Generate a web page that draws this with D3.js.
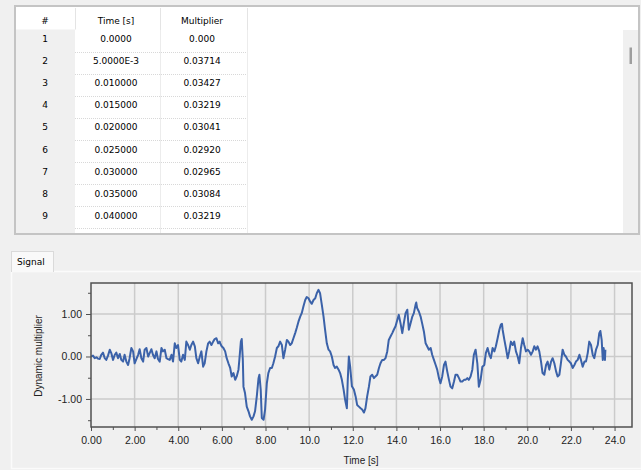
<!DOCTYPE html>
<html>
<head>
<meta charset="utf-8">
<script src="https://cdn.jsdelivr.net/npm/d3@7"></script>
<style>
body { margin: 0; background: #f0f0f0; }
svg { display: block; }
</style>
</head>
<body>
<svg id="app" width="641" height="470"></svg>
<script>
// table rows (as displayed)
var rowIndex = ["1", "2", "3", "4", "5", "6", "7", "8", "9", "10"];
var rowTime = ["0.0000", "5.0000E-3", "0.010000", "0.015000", "0.020000", "0.025000", "0.030000", "0.035000", "0.040000", "0.045000"];
var rowMult = ["0.000", "0.03714", "0.03427", "0.03219", "0.03041", "0.02920", "0.02965", "0.03084", "0.03219", "0.03351"];
var colHeaders = ["#", "Time [s]", "Multiplier"];

// signal
var signalTime = [
  0, 0.09, 0.17, 0.25, 0.32, 0.40, 0.47, 0.55, 0.63, 0.70, 0.78, 0.86, 0.93, 1.01, 1.09, 1.16, 1.24, 1.32, 1.39, 1.47,
  1.54, 1.62, 1.70, 1.77, 1.85, 1.93, 2.00, 2.08, 2.16, 2.23, 2.31, 2.39, 2.46, 2.54, 2.62, 2.69, 2.77, 2.84, 2.92, 3.00,
  3.07, 3.15, 3.23, 3.30, 3.38, 3.46, 3.53, 3.61, 3.69, 3.76, 3.84, 3.91, 3.99, 4.07, 4.14, 4.22, 4.30, 4.37, 4.45, 4.53,
  4.60, 4.68, 4.76, 4.83, 4.91, 4.99, 5.06, 5.14, 5.21, 5.29, 5.37, 5.44, 5.52, 5.60, 5.67, 5.75, 5.83, 5.90,
  5.92, 5.99, 6.07, 6.15, 6.22, 6.30, 6.38, 6.45, 6.53, 6.61, 6.68, 6.76, 6.80, 6.87, 6.91, 6.96, 6.99, 7.06, 7.14, 7.22,
  7.29, 7.37, 7.45, 7.52, 7.60, 7.68, 7.72, 7.78, 7.83, 7.91, 7.98, 8.06, 8.13, 8.21, 8.29, 8.36, 8.44, 8.52, 8.59, 8.67,
  8.75, 8.82, 8.90, 8.98, 9.05, 9.13, 9.20, 9.28, 9.36, 9.43, 9.51, 9.59, 9.66, 9.74, 9.82, 9.89, 9.97, 10.05, 10.12, 10.20,
  10.28, 10.35, 10.43, 10.50, 10.58, 10.66, 10.73, 10.81, 10.89, 10.96, 11.04, 11.12, 11.19, 11.27, 11.35, 11.42, 11.50, 11.58, 11.65, 11.73,
  11.77, 11.82, 11.88, 11.96,
  12.05, 12.13, 12.20, 12.28, 12.36, 12.43, 12.51, 12.58, 12.66, 12.74, 12.81, 12.89, 12.97, 13.04, 13.12, 13.20, 13.27, 13.35, 13.43, 13.50,
  13.58, 13.65, 13.73, 13.81, 13.88, 13.96, 14.04, 14.11, 14.19, 14.27, 14.34, 14.42, 14.50, 14.57, 14.65, 14.73, 14.80, 14.88, 14.91, 14.95,
  15.03, 15.11, 15.18, 15.26, 15.34, 15.41, 15.49, 15.57, 15.64, 15.72, 15.80, 15.87, 15.95, 16.02, 16.10, 16.18, 16.25, 16.33, 16.41, 16.48,
  16.56, 16.64, 16.71, 16.79, 16.87, 16.94, 17.02, 17.10, 17.17, 17.25, 17.32, 17.40, 17.48, 17.55, 17.63, 17.71, 17.78, 17.86, 17.94,
  18.03, 18.10, 18.18, 18.26, 18.33, 18.41, 18.49, 18.56, 18.64, 18.72, 18.79, 18.84, 18.87, 18.95, 19.02, 19.10, 19.17, 19.25, 19.33, 19.40,
  19.48, 19.56, 19.63, 19.71, 19.79, 19.86, 19.94, 20.02, 20.09, 20.17, 20.25, 20.32, 20.40, 20.47, 20.55, 20.63, 20.70, 20.78, 20.86, 20.93,
  21.01, 21.09, 21.16, 21.24, 21.32, 21.39, 21.47, 21.54, 21.62, 21.70, 21.77, 21.85, 21.93, 22.00, 22.08, 22.16, 22.23, 22.31, 22.39, 22.46,
  22.54, 22.62, 22.69, 22.77, 22.84, 22.92, 23.00, 23.07, 23.15, 23.23, 23.30, 23.35, 23.41, 23.46, 23.50, 23.56, 23.58
];
var signalMult = [
  0, 0.02, -0.04, -0.02, -0.05, -0.06, 0.04, 0.09, -0.04, -0.08, 0.02, 0.16, 0.08, -0.08, 0.04, 0.09, -0.04, 0.06, -0.08, -0.12,
  0.04, -0.12, -0.20, -0.04, 0.20, 0.12, -0.16, -0.06, 0.04, 0.17, -0.04, -0.12, 0.16, 0.20, 0.00, 0.08, 0.17, 0.04, -0.04, 0.12,
  -0.06, -0.12, 0.20, 0.12, 0.16, -0.04, -0.06, -0.08, 0.04, -0.12, 0.31, 0.20, 0.27, -0.08, -0.12, 0.04, -0.08, 0.35, 0.27, 0.16,
  0.27, 0.35, 0.24, -0.04, -0.16, 0.00, 0.12, -0.24, -0.16, 0.12, 0.31, 0.35, 0.27, 0.35, 0.41, 0.43, 0.31, 0.35,
  0.31, 0.24, 0.20, 0.12, -0.04, -0.16, -0.27, -0.47, -0.39, -0.55, -0.47, -0.31, -0.08, 0.35, 0.41, -0.08, -0.71, -0.86, -1.18, -1.29,
  -1.41, -1.49, -1.41, -1.29, -0.94, -0.51, -0.43, -0.78, -1.45, -1.49, -1.25, -0.63, -0.39, -0.27, -0.27, -0.16, 0.00, 0.20, 0.24, 0.35,
  0.27, -0.04, 0.16, 0.39, 0.35, 0.27, 0.31, 0.43, 0.55, 0.67, 0.82, 0.94, 1.02, 1.18, 1.33, 1.40, 1.37, 1.29, 1.24, 1.33,
  1.37, 1.49, 1.57, 1.49, 1.22, 0.94, 0.63, 0.31, 0.16, 0.12, 0.00, -0.20, -0.27, -0.24, -0.31, -0.39, -0.55, -0.78, -1.02, -1.22,
  -0.55, 0.00, -0.24, -0.70,
  -0.78, -0.94, -1.14, -1.18, -1.22, -1.25, -1.32, -1.22, -0.94, -0.71, -0.47, -0.43, -0.51, -0.47, -0.43, -0.27, -0.16, -0.08, -0.08, -0.04,
  0.12, 0.39, 0.47, 0.55, 0.63, 0.71, 0.86, 0.98, 0.78, 0.55, 0.78, 1.02, 1.10, 0.63, 0.78, 0.94, 1.02, 1.22, 1.27, 1.14,
  1.06, 0.94, 0.78, 0.59, 0.31, 0.24, 0.16, 0.20, 0.04, -0.08, -0.20, -0.31, -0.51, -0.63, -0.47, -0.20, -0.12, -0.35, -0.55, -0.71,
  -0.75, -0.59, -0.43, -0.43, -0.51, -0.59, -0.59, -0.55, -0.55, -0.51, -0.55, -0.47, -0.31, 0.04, 0.16, -0.16, -0.71, -0.55, -0.24,
  -0.20, 0.08, 0.20, 0.04, -0.04, 0.20, 0.12, 0.24, 0.43, 0.63, 0.75, 0.77, 0.63, 0.39, 0.20, -0.04, 0.12, 0.35, 0.27, 0.35,
  0.12, 0.00, -0.16, 0.20, 0.43, 0.27, 0.12, 0.16, 0.12, 0.04, 0.12, 0.24, 0.16, 0.24, 0.12, -0.12, -0.39, -0.43, -0.20, -0.12,
  -0.31, -0.12, -0.04, -0.16, -0.35, -0.47, -0.43, -0.16, 0.16, 0.04, 0.00, -0.08, -0.12, -0.16, -0.27, -0.20, -0.12, -0.08, 0.04, -0.08,
  -0.24, -0.12, -0.12, 0.08, 0.35, 0.27, 0.04, -0.04, 0.16, 0.27, 0.55, 0.60, 0.39, -0.08, 0.20, -0.08, 0.16
];

var xMajor = [0, 2, 4, 6, 8, 10, 12, 14, 16, 18, 20, 22, 24];
var xMinor = [1, 3, 5, 7, 9, 11, 13, 15, 17, 19, 21, 23];
var yMajor = [-1, 0, 1];
var yMinor = [-1.5, -0.5, 0.5, 1.5];

var svg = d3.select("#app");
var tableFont = "'DejaVu Sans', sans-serif";
var chartFont = "'Liberation Sans', Arial, sans-serif";

svg.append("rect").attr("width", 641).attr("height", 470).attr("fill", "#f0f0f0");

// ---------- table ----------
var colX = [16, 75, 160, 247];
var rowTop0 = 29.5, rowH = 22.1;

svg.append("defs").append("clipPath").attr("id", "tclip")
  .append("rect").attr("x", 16).attr("y", 7).attr("width", 622).attr("height", 226);

var tbl = svg.append("g").attr("clip-path", "url(#tclip)");
tbl.append("rect").attr("x", 15).attr("y", 6).attr("width", 624).attr("height", 228).attr("fill", "#fff");
tbl.append("rect").attr("x", colX[0]).attr("y", rowTop0).attr("width", colX[1] - colX[0]).attr("height", 210).attr("fill", "#f0f0f0");

// header separators
[colX[1], colX[2], colX[3]].forEach(function(x) {
  tbl.append("line").attr("x1", x + 0.5).attr("x2", x + 0.5).attr("y1", 8).attr("y2", rowTop0)
    .attr("stroke", "#e4e4e4");
});

// row dotted separators
rowIndex.forEach(function(d, i) {
  var yy = Math.round(rowTop0 + rowH * (i + 1)) + 0.5;
  tbl.append("line").attr("x1", colX[1]).attr("x2", colX[3]).attr("y1", yy).attr("y2", yy)
    .attr("stroke", "#d8d8d8").attr("stroke-dasharray", "1,1");
});
[colX[2], colX[3]].forEach(function(x) {
  tbl.append("line").attr("x1", x + 0.5).attr("x2", x + 0.5).attr("y1", rowTop0).attr("y2", 234)
    .attr("stroke", "#d8d8d8").attr("stroke-dasharray", "1,1");
});

var colCenters = [45, 116, 202];
colHeaders.forEach(function(h, j) {
  tbl.append("text").attr("x", colCenters[j]).attr("y", 24).attr("text-anchor", "middle")
    .attr("font-family", tableFont).attr("font-size", 9).attr("fill", "#000").text(h);
});
var cols = [rowIndex, rowTime, rowMult];
cols.forEach(function(arr, j) {
  tbl.selectAll(null).data(arr).enter().append("text")
    .attr("x", colCenters[j])
    .attr("y", function(d, i) { return rowTop0 + rowH * i + 12.5; })
    .attr("text-anchor", "middle")
    .attr("font-family", tableFont).attr("font-size", 9).attr("fill", "#000")
    .text(function(d) { return d; });
});

// scrollbar
tbl.append("rect").attr("x", 623).attr("y", 30).attr("width", 16).attr("height", 204).attr("fill", "#f0f0f0");
tbl.append("rect").attr("x", 629.5).attr("y", 47.5).attr("width", 2.5).attr("height", 16.5).attr("fill", "#9e9e9e");

svg.append("rect").attr("x", 15).attr("y", 6).attr("width", 624).attr("height", 228)
  .attr("fill", "none").attr("stroke", "#c4c4c4").attr("stroke-width", 2);

// ---------- tab + panel ----------
svg.append("rect").attr("x", 11.5).attr("y", 271.5).attr("width", 630).attr("height", 197)
  .attr("fill", "#f0f0f0").attr("stroke", "#fbfbfb").attr("stroke-width", 1.5);
svg.append("rect").attr("x", 11.5).attr("y", 251.5).attr("width", 42).attr("height", 20)
  .attr("fill", "#f9f9f9").attr("stroke", "#dadada");
svg.append("line").attr("x1", 12).attr("x2", 53).attr("y1", 271.5).attr("y2", 271.5).attr("stroke", "#f9f9f9");
svg.append("text").attr("x", 17).attr("y", 264.5).attr("font-family", tableFont).attr("font-size", 9)
  .attr("fill", "#000").text("Signal");

// ---------- chart ----------
var x = d3.scaleLinear().domain([0, 24.8]).range([91, 632]);
var y = d3.scaleLinear().domain([-1.66, 1.73]).range([427, 283]);
var fmt = function(v) { return d3.format(".3r")(v).replace("\u2212", "-"); };

var grid = svg.append("g").attr("stroke", "#cbcbcb").attr("stroke-width", 1.5);
grid.selectAll(null).data(xMajor.slice(1)).enter().append("line")
  .attr("x1", function(d) { return x(d); }).attr("x2", function(d) { return x(d); })
  .attr("y1", 283).attr("y2", 427);
grid.selectAll(null).data(yMajor).enter().append("line")
  .attr("y1", function(d) { return y(d); }).attr("y2", function(d) { return y(d); })
  .attr("x1", 91).attr("x2", 632);

svg.append("defs").append("clipPath").attr("id", "pclip")
  .append("rect").attr("x", 91).attr("y", 283).attr("width", 541).attr("height", 144);

var pts = signalTime.map(function(t, i) { return [t, signalMult[i]]; });
var line = d3.line().x(function(d) { return x(d[0]); }).y(function(d) { return y(d[1]); });
svg.append("path").datum(pts).attr("clip-path", "url(#pclip)")
  .attr("d", line).attr("fill", "none").attr("stroke", "#3b62a9")
  .attr("stroke-width", 2).attr("stroke-linejoin", "round");

svg.append("rect").attr("x", 91).attr("y", 283).attr("width", 541).attr("height", 144)
  .attr("fill", "none").attr("stroke", "#505050").attr("stroke-width", 1.5);

function styleAxis(g) {
  g.select(".domain").remove();
  g.selectAll(".tick line").attr("stroke", "#505050");
  g.selectAll(".tick text").attr("font-family", chartFont).attr("font-size", 10.5).attr("fill", "#222");
}

svg.append("g").attr("transform", "translate(0,427)")
  .call(d3.axisBottom(x).tickValues(xMajor).tickSize(4).tickPadding(6).tickFormat(fmt))
  .call(styleAxis);
svg.append("g").attr("transform", "translate(0,427)")
  .call(d3.axisBottom(x).tickValues(xMinor).tickSize(3).tickFormat(""))
  .call(styleAxis);
svg.append("g").attr("transform", "translate(91,0)")
  .call(d3.axisLeft(y).tickValues(yMajor).tickSize(5).tickPadding(4).tickFormat(fmt))
  .call(styleAxis);
svg.append("g").attr("transform", "translate(91,0)")
  .call(d3.axisLeft(y).tickValues(yMinor).tickSize(3).tickFormat(""))
  .call(styleAxis);

svg.append("text").attr("x", 361).attr("y", 464).attr("text-anchor", "middle")
  .attr("font-family", chartFont).attr("font-size", 10).attr("fill", "#222").text("Time [s]");
svg.append("text").attr("transform", "translate(42,356) rotate(-90)").attr("text-anchor", "middle")
  .attr("font-family", chartFont).attr("font-size", 10).attr("fill", "#222").text("Dynamic multiplier");
</script>
</body>
</html>
